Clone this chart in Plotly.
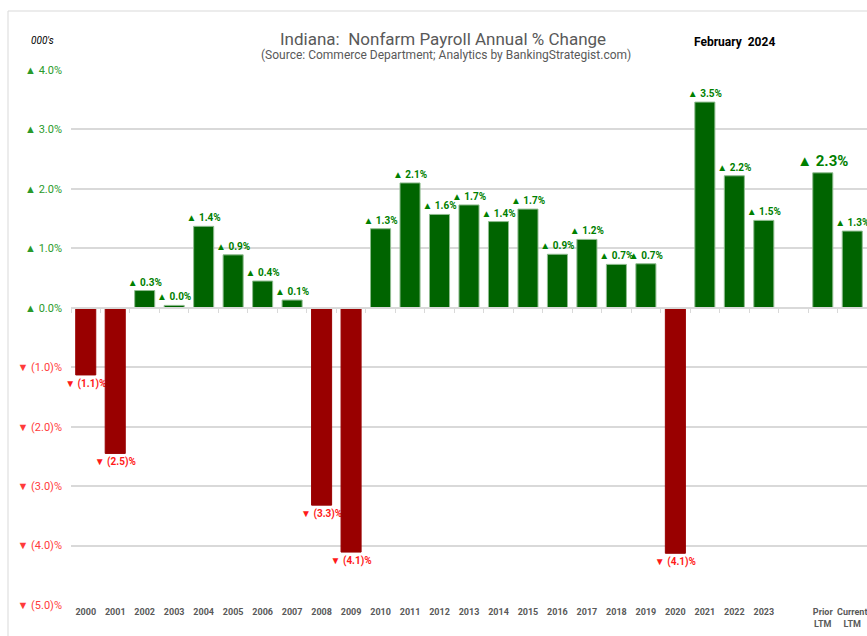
import plotly.graph_objects as go

# categorias do eixo x (o slot vazio separa os anos do LTM)
categorias = [str(a) for a in range(2000, 2024)] + [" ", "Prior<br>LTM", "Current<br>LTM"]
variacao = [-1.13, -2.45, 0.29, 0.04, 1.37, 0.89, 0.45, 0.13, -3.32, -4.11,
            1.33, 2.10, 1.57, 1.73, 1.45, 1.66, 0.90, 1.15, 0.73, 0.74,
            -4.13, 3.46, 2.22, 1.47, None, 2.27, 1.29]
rotulos = ["▼ (1.1)%", "▼ (2.5)%", "▲ 0.3%", "▲ 0.0%", "▲ 1.4%", "▲ 0.9%", "▲ 0.4%", "▲ 0.1%",
           "▼ (3.3)%", "▼ (4.1)%", "▲ 1.3%", "▲ 2.1%", "▲ 1.6%", "▲ 1.7%", "▲ 1.4%", "▲ 1.7%",
           "▲ 0.9%", "▲ 1.2%", "▲ 0.7%", "▲ 0.7%", "▼ (4.1)%", "▲ 3.5%", "▲ 2.2%", "▲ 1.5%",
           "", "▲ 2.3%", "▲ 1.3%"]
ticks_y = [4, 3, 2, 1, 0, -1, -2, -3, -4, -5]
ticks_y_txt = ["▲ 4.0%", "▲ 3.0%", "▲ 2.0%", "▲ 1.0%", "▲ 0.0%",
               "▼ (1.0)%", "▼ (2.0)%", "▼ (3.0)%", "▼ (4.0)%", "▼ (5.0)%"]

VERDE = "#006400"
VERMELHO = "#990000"
FONTE = "Liberation Sans Narrow, Roboto, Arial"

cores = [VERDE if (v is not None and v >= 0) else VERMELHO for v in variacao]
bordas = ["#8fbc8f" if c == VERDE else VERMELHO for c in cores]
cores_txt = ["#008000" if c == VERDE else "#ff1a1a" for c in cores]
tam_txt = [15 if c == "Prior<br>LTM" else 10 for c in categorias]

ticks_y_html = []
for v, t in zip(ticks_y, ticks_y_txt):
    cor = "#2a9a2a" if v >= 0 else "#ff3b3b"
    ticks_y_html.append(f"<span style='color:{cor}'>{t}</span>")

fig = go.Figure()
fig.add_trace(go.Bar(
    x=categorias, y=variacao,
    marker=dict(color=cores, line=dict(color=bordas, width=1)),
    text=rotulos, textposition="outside",
    textfont=dict(family=FONTE, size=tam_txt, color=cores_txt, weight="bold"),
    constraintext="none", cliponaxis=False, hoverinfo="skip",
))

# eixo auxiliar no zero, com marcas entre as categorias
fig.add_trace(go.Scatter(x=categorias, y=[0] * len(categorias), xaxis="x2",
                         mode="lines", line=dict(width=0), hoverinfo="skip", showlegend=False))


def px_x(p):
    return (p - 71) / 796


def px_y(p):
    return (605 - p) / 535


fig.update_layout(
    width=867, height=636,
    margin=dict(l=71, r=0, t=70, b=31, autoexpand=False),
    plot_bgcolor="white", paper_bgcolor="white",
    bargap=0.32, showlegend=False,
    font=dict(family=FONTE, color="#595959"),
    xaxis=dict(
        type="category", categoryorder="array", categoryarray=categorias,
        tickfont=dict(size=9, color="#595959", weight="bold"), tickangle=0,
        showgrid=False, ticks="", showline=False, automargin=False,
    ),
    xaxis2=dict(
        type="category", categoryorder="array", categoryarray=categorias,
        overlaying="x", matches="x", anchor="free", position=px_y(308),
        showticklabels=False, ticks="outside", ticklen=4, tickcolor="#d9d9d9",
        tickson="boundaries", showline=True, linecolor="#d9d9d9", linewidth=1.5,
        showgrid=False, automargin=False,
    ),
    yaxis=dict(
        range=[-5, 4], tickvals=ticks_y, ticktext=ticks_y_html,
        tickfont=dict(size=11), ticklabelstandoff=8, automargin=False,
        showgrid=True, gridcolor="#d9d9d9", gridwidth=1.5, zeroline=False,
    ),
    shapes=[dict(type="rect", xref="paper", yref="paper",
                 x0=px_x(8), x1=1.05, y0=px_y(660), y1=px_y(11),
                 line=dict(color="#d9d9d9", width=1), layer="below")],
    annotations=[
        dict(text="Indiana:  Nonfarm Payroll Annual % Change", x=px_x(443), y=px_y(27),
             xref="paper", yref="paper", showarrow=False,
             font=dict(size=17, color="#595959")),
        dict(text="(Source: Commerce Department; Analytics by BankingStrategist.com)",
             x=px_x(446), y=px_y(46), xref="paper", yref="paper", showarrow=False,
             font=dict(size=12, color="#595959")),
        dict(text="<i>000's</i>", x=px_x(29), y=px_y(33), xref="paper", yref="paper",
             showarrow=False, font=dict(size=10, color="#000000")),
        dict(text="<b>February  2024</b>", x=px_x(777), y=px_y(33), xref="paper", yref="paper",
             showarrow=False, font=dict(size=12, color="#000000")),
    ],
)

fig.write_html("out.html", config={"displayModeBar": False},
               post_script="document.body.style.margin='0';")
